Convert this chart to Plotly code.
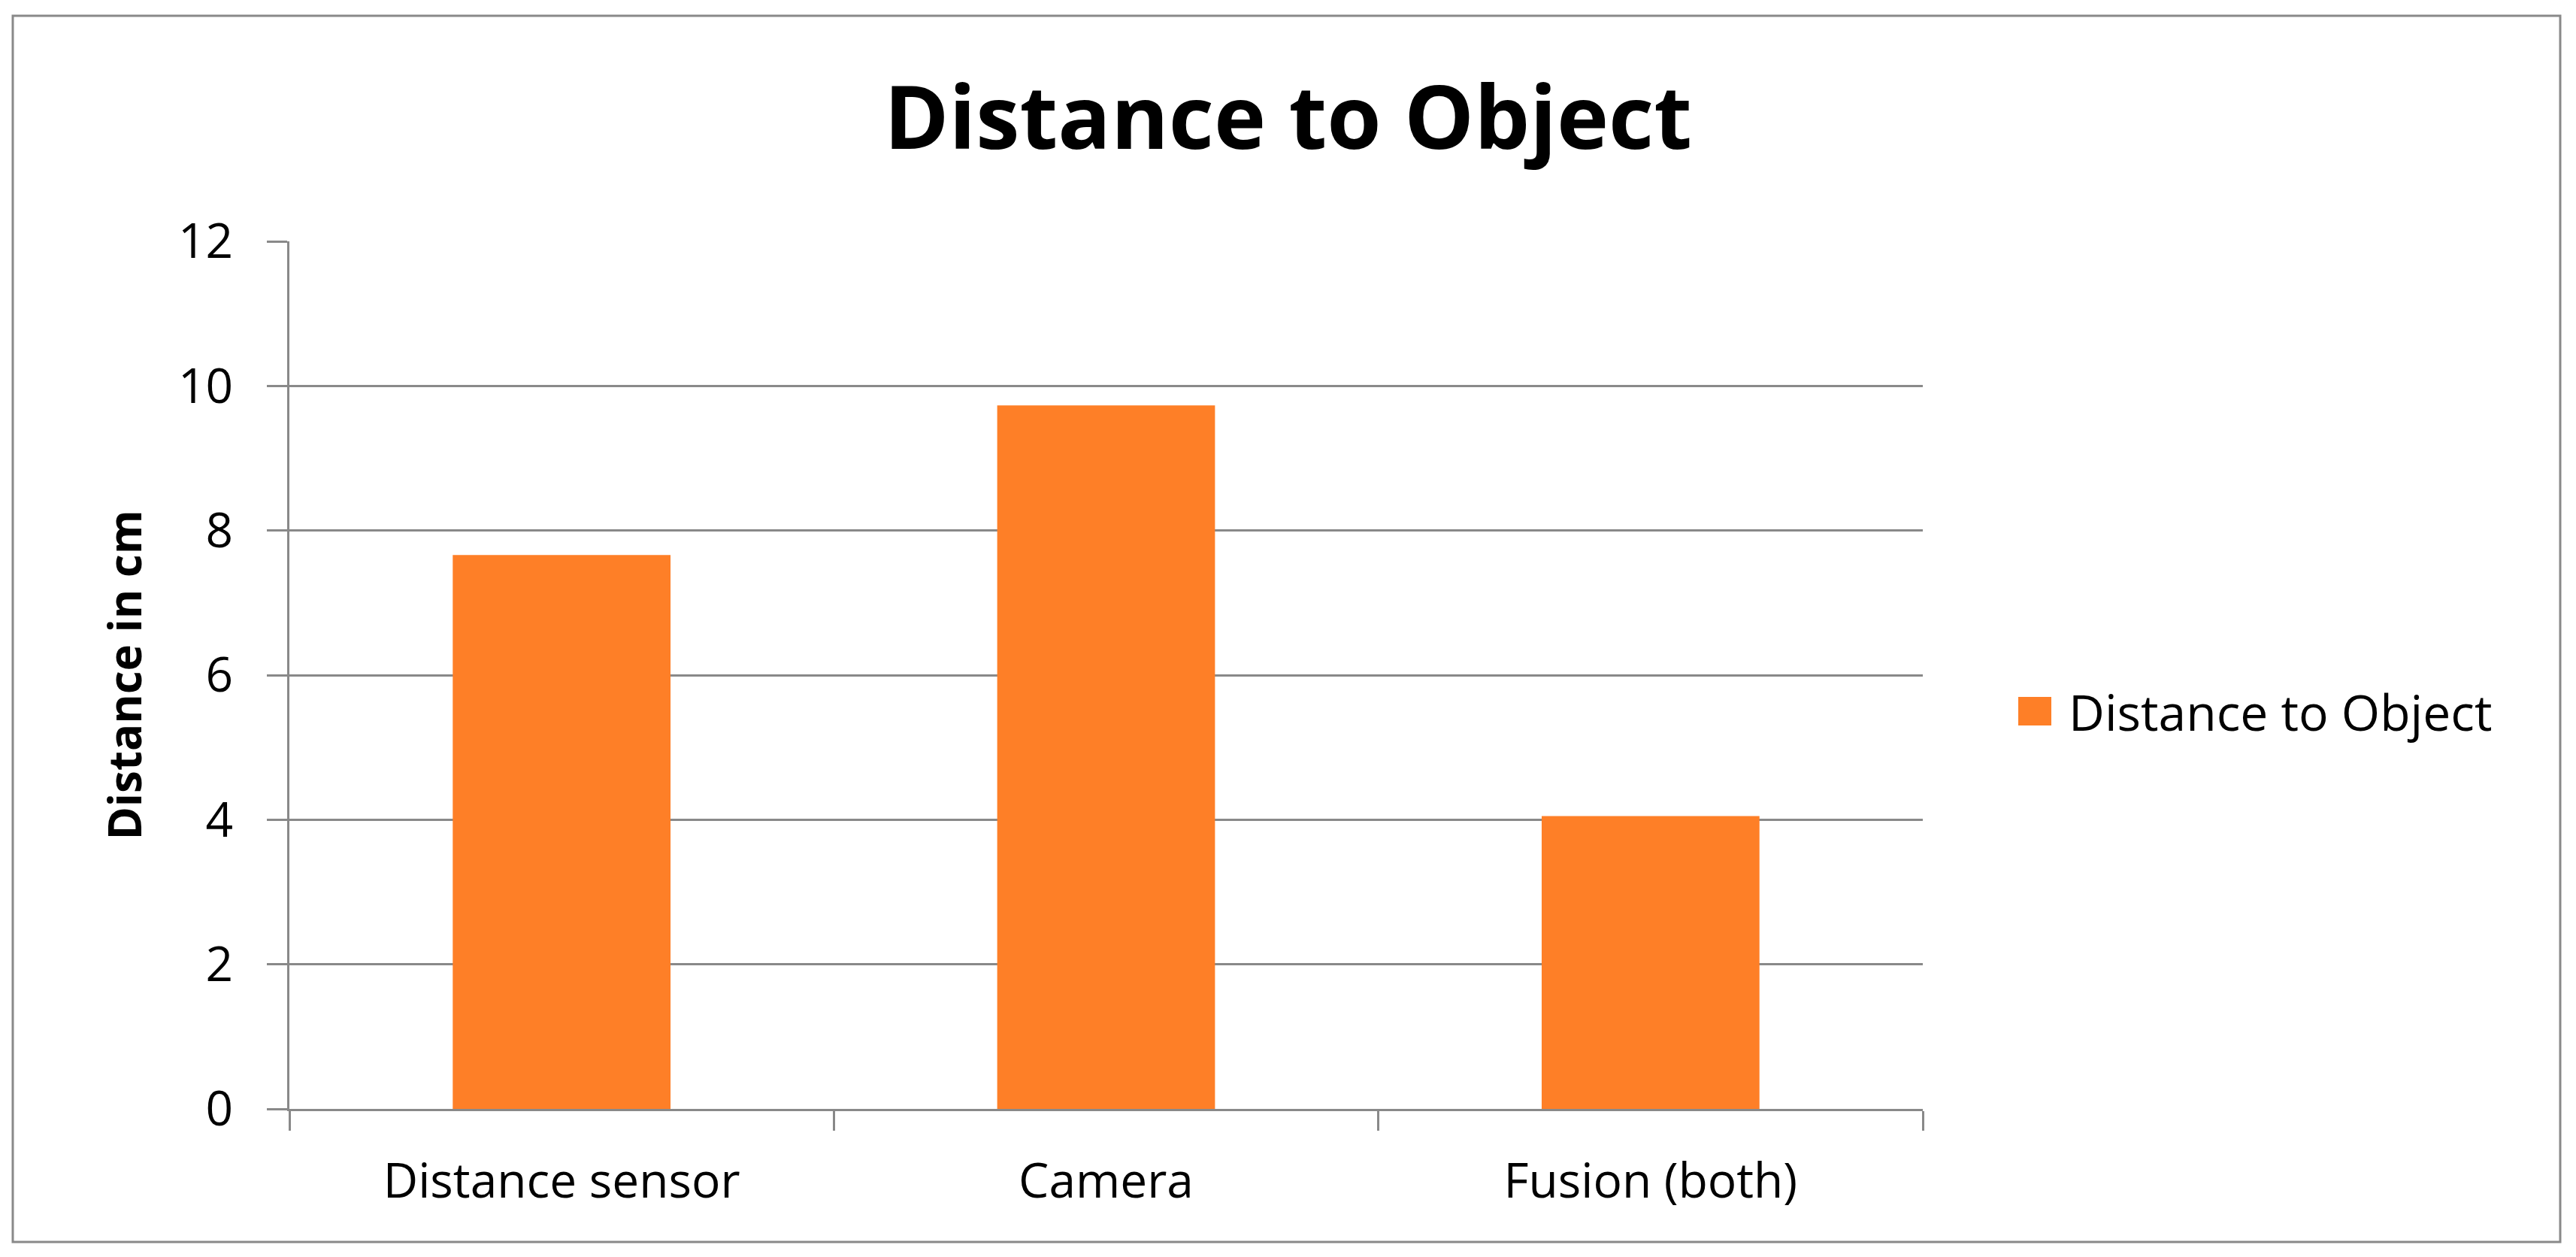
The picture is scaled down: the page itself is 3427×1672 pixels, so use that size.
import plotly.graph_objects as go

CATEGORIES = ["Distance sensor", "Camera", "Fusion (both)"]
DISTANCE_CM = [7.66, 9.73, 4.05]
SERIES_NAME = "Distance to Object"
Y_TICKS = [0, 2, 4, 6, 8, 10, 12]

# the page body has an 8px margin, so work in page pixels and shift
OFF = 8
W, H = 3427 - 2 * OFF, 1672 - 2 * OFF
L, R, T, B = 385 - OFF, 2558 - OFF, 321 - OFF, 1475 - OFF  # plot area
ORANGE = "#FE7F27"
GRAY = "#898989"
FONT = "Open Sans"


def px_x(p):
    return (p - OFF - L) / (R - L)


def px_y(p):
    return (B - (p - OFF)) / (B - T)


fig = go.Figure()
fig.add_trace(go.Bar(
    name=SERIES_NAME,
    x=CATEGORIES,
    y=DISTANCE_CM,
    marker=dict(color=ORANGE, line=dict(width=0)),
    showlegend=False,
))

fig.update_layout(
    width=W,
    height=H,
    margin=dict(l=L, r=W - R, t=T, b=H - B, autoexpand=False),
    paper_bgcolor="white",
    plot_bgcolor="white",
    bargap=0.6,
    font=dict(family=FONT, color="black", size=64),
    title=dict(
        text="<b>Distance to Object</b>",
        x=0.5, xanchor="center",
        y=1 - (157 - OFF) / H, yanchor="middle", yref="container",
        font=dict(family=FONT, size=117, color="black"),
    ),
    xaxis=dict(
        type="category",
        showline=True, linecolor=GRAY, linewidth=3,
        ticks="outside", tickson="boundaries", ticklen=26,
        tickcolor=GRAY, tickwidth=3,
        tickfont=dict(size=64),
        ticklabelstandoff=38,
        showgrid=False,
    ),
    yaxis=dict(
        range=[0, 12],
        tickvals=Y_TICKS,
        showline=True, linecolor=GRAY, linewidth=3,
        ticks="outside", ticklen=27, tickcolor=GRAY, tickwidth=3,
        tickfont=dict(size=64),
        ticklabelstandoff=32,
        showgrid=True, gridcolor=GRAY, gridwidth=3,
        zeroline=False,
        title=dict(text="<b>Distance in cm</b>", font=dict(size=60), standoff=30),
    ),
    shapes=[
        # outer chart border
        dict(type="rect", xref="paper", yref="paper",
             x0=px_x(17), x1=px_x(3406), y0=px_y(1652), y1=px_y(21),
             line=dict(color=GRAY, width=3), fillcolor="rgba(0,0,0,0)", layer="below"),
        # legend swatch
        dict(type="rect", xref="paper", yref="paper",
             x0=px_x(2685), x1=px_x(2729), y0=px_y(965), y1=px_y(927),
             line=dict(width=0), fillcolor=ORANGE),
    ],
    annotations=[
        dict(text=SERIES_NAME, xref="paper", yref="paper",
             x=px_x(2750), y=px_y(946), xanchor="left", yanchor="middle",
             showarrow=False, font=dict(size=66, color="black")),
    ],
)

fig.write_html("out.html")
